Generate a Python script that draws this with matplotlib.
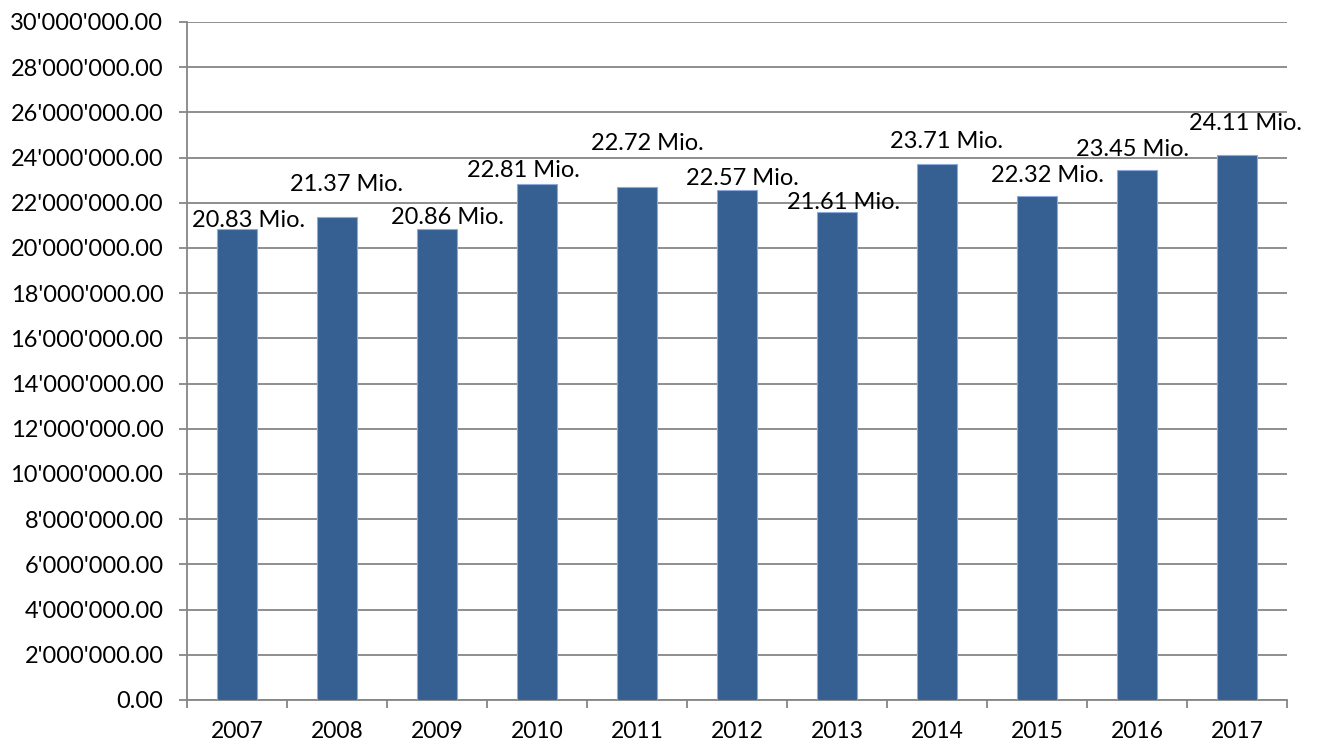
import matplotlib
matplotlib.use("Agg")
import matplotlib.pyplot as plt
from matplotlib.ticker import FuncFormatter, MultipleLocator, FixedLocator
import numpy as np

plt.rcParams['font.family'] = ['Lato', 'DejaVu Sans']

jahre = ['2007', '2008', '2009', '2010', '2011', '2012', '2013', '2014', '2015', '2016', '2017']
werte_mio = [20.83, 21.37, 20.86, 22.81, 22.72, 22.57, 21.61, 23.71, 22.32, 23.45, 24.11]

# label position relative to bar top (pixels): x shift, height of digit centre above bar
label_dx = [12, 10, 10, -14, 10, 5, 7, 10, 10, -4, 8]
label_dy = [11, 35, 13, 16, 45, 13, 11, 25, 22, 23, 34]

werte = np.array(werte_mio) * 1e6
x = np.arange(len(jahre))

fig = plt.figure(figsize=(13.2, 7.46), dpi=100)
ax = fig.add_axes([187 / 1320, 1 - 700 / 746, 1100 / 1320, 678 / 746])

grau = '#868686'
ax.bar(x, werte, width=0.4, color='#376092', edgecolor='#8eaadb', linewidth=0.8, zorder=3)

ax.set_xlim(-0.5, len(jahre) - 0.5)
ax.set_ylim(0, 30e6)
ax.yaxis.set_major_locator(MultipleLocator(2e6))
ax.yaxis.set_major_formatter(FuncFormatter(lambda v, p: f"{v:,.2f}".replace(",", "'")))
ax.grid(axis='y', color=grau, linewidth=1.3, zorder=0)

ax.set_xticks(x)
ax.set_xticklabels(jahre)
ax.xaxis.set_minor_locator(FixedLocator(np.arange(-0.5, len(jahre), 1.0)))
ax.tick_params(axis='x', which='major', length=0, pad=15, labelsize=16.5)
ax.tick_params(axis='x', which='minor', length=6, width=1.3, color=grau, direction='out')
ax.tick_params(axis='y', length=6, width=1.3, color=grau, pad=11, labelsize=17)

for s in ['top', 'right']:
    ax.spines[s].set_visible(False)
for s in ['left', 'bottom']:
    ax.spines[s].set_color(grau)
    ax.spines[s].set_linewidth(1.3)

for xi, v, dx, dy in zip(x, werte, label_dx, label_dy):
    ax.annotate(f"{v / 1e6:.2f} Mio.", xy=(xi, v), xytext=(dx, dy - 8.5),
                textcoords='offset pixels', ha='center', va='baseline',
                fontsize=17, zorder=4)

fig.savefig('out.png', dpi=100)
